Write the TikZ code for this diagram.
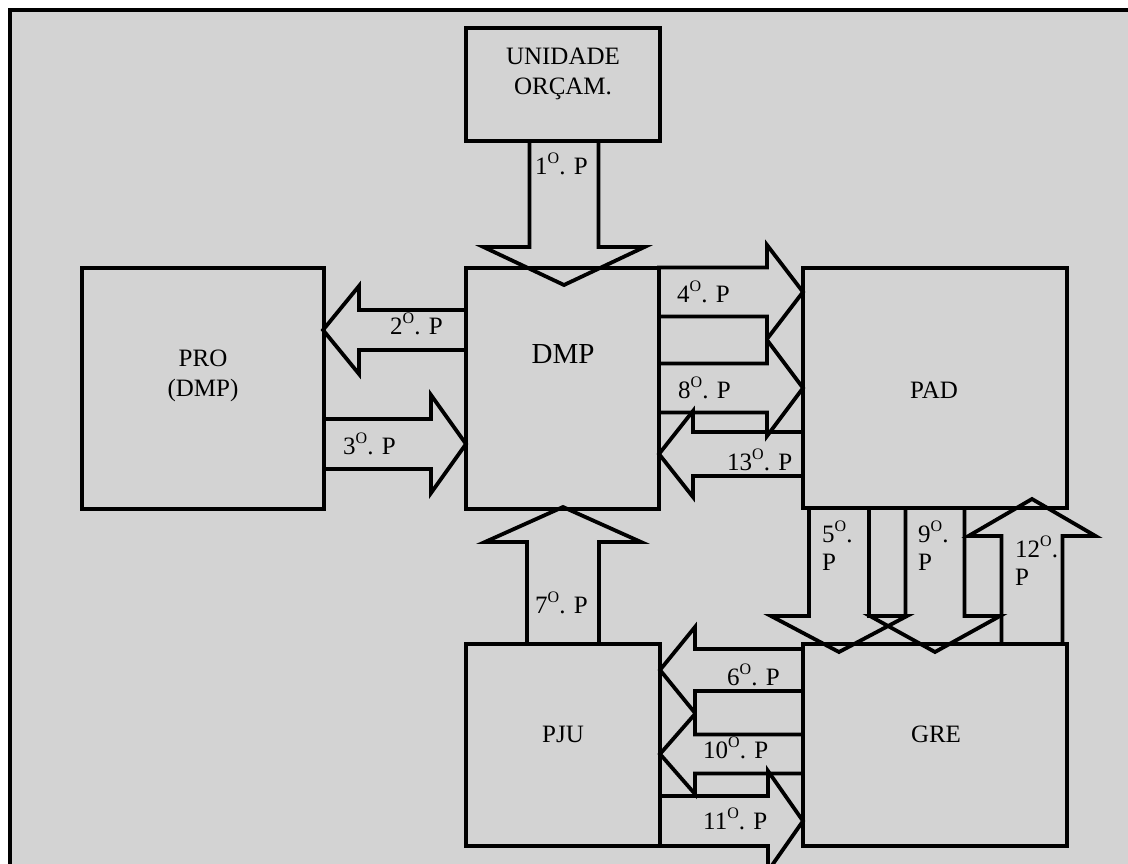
\documentclass[tikz,border=0pt]{standalone}
\usepackage{fontspec}
\setmainfont{Liberation Serif}
\usetikzlibrary{calc}
\definecolor{panelgray}{RGB}{211,211,211}
\tikzset{
  box/.style={draw, line width=4pt, rectangle, inner sep=0pt},
  lbl/.style={inner sep=0pt},
  blockarr/.style={draw, line width=3.8pt, line join=miter}
}
\newcommand\ord{\raisebox{11pt}{\fontsize{16}{16}\selectfont O}}
% tail, tip, shaft half width, head half width, head length
\newcommand\blockarrow[5]{%
  \coordinate (hb) at ($(#2)!#5!(#1)$);
  \draw[blockarr] ($(#1)!#3!90:(#2)$) -- ($(hb)!#3!90:(#2)$) -- ($(hb)!#4!90:(#2)$) -- (#2)
    -- ($(hb)!#4!-90:(#2)$) -- ($(hb)!#3!-90:(#2)$) -- ($(#1)!#3!-90:(#2)$) -- cycle;
}
\begin{document}
\begin{tikzpicture}[x=1pt, y=-1pt, font=\fontsize{25}{30}\selectfont]
\clip (0,0) rectangle (1128,864);
\fill[white] (0,0) rectangle (1128,864);
\draw[line width=4pt, fill=panelgray] (10,10) rectangle (1150,890);

% blocos
\node[box, minimum width=194pt, minimum height=113pt] (uo) at (563,84.5) {};
\node[box, minimum width=242pt, minimum height=241pt] (pro) at (203,388.5) {};
\node[box, minimum width=193pt, minimum height=241pt] (dmp) at (562.5,388.5) {};
\node[box, minimum width=264pt, minimum height=240pt] (pad) at (935,388) {};
\node[box, minimum width=194pt, minimum height=202pt] (pju) at (563,745) {};
\node[box, minimum width=264pt, minimum height=202pt] (gre) at (935,745) {};

\node[lbl, anchor=base, align=center] (uotxt) at (563,95) {UNIDADE\\ORÇAM.};
\node[lbl, anchor=base, align=center] (protxt) at (203,396) {PRO\\(DMP)};
\node[lbl, anchor=base, font=\fontsize{29}{34}\selectfont] (dmptxt) at (563,363) {DMP};
\node[lbl, anchor=base] (padtxt) at (934,398) {PAD};
\node[lbl, anchor=base] (pjutxt) at (563,742) {PJU};
\node[lbl, anchor=base] (gretxt) at (936,742) {GRE};

% setas
\foreach \i/\xa/\ya/\xb/\yb/\sh/\hd/\hlen in {
    1/564/141/564/285/34.5/80.5/38,
    2/466/330/323/330/20/44/36,
    3/324/444/466/444/25/49/35,
    4/659/292/803/292/24.5/47/36,
    8/659/388/803/388/24.5/48/36,
    13/803/454/659/454/22/43/34,
    5/839/508/839/652/30/68/36,
    9/935/508/935/652/29.5/65/36,
    12/1032/644/1032/499/30.5/63.5/37,
    7/563/644/563/507/36/78/35,
    6/803/670/660/670/21/43/35,
    10/803/754/660/754/19.5/40/35,
    11/660/821/803/821/25/50/35}{
  \coordinate (tail\i) at (\xa,\ya);
  \coordinate (tip\i) at (\xb,\yb);
  \blockarrow{tail\i}{tip\i}{\sh pt}{\hd pt}{\hlen pt}
}

% passos
\foreach \i/\x/\y in {1/535/175, 2/390/334, 3/343/454, 4/677/302, 8/678/398,
    13/727/470, 7/535/613, 6/727/685, 10/703/758, 11/703/829}
  \node[lbl, anchor=base west] (p\i) at (\x,\y) {\i\ord. P};
\foreach \i/\x/\y in {5/822/570, 9/918/570, 12/1015/585}
  \node[lbl, anchor=base west, align=left, font=\fontsize{25}{28}\selectfont] (p\i) at (\x,\y) {\i\ord.\\P};
\end{tikzpicture}
\end{document}
